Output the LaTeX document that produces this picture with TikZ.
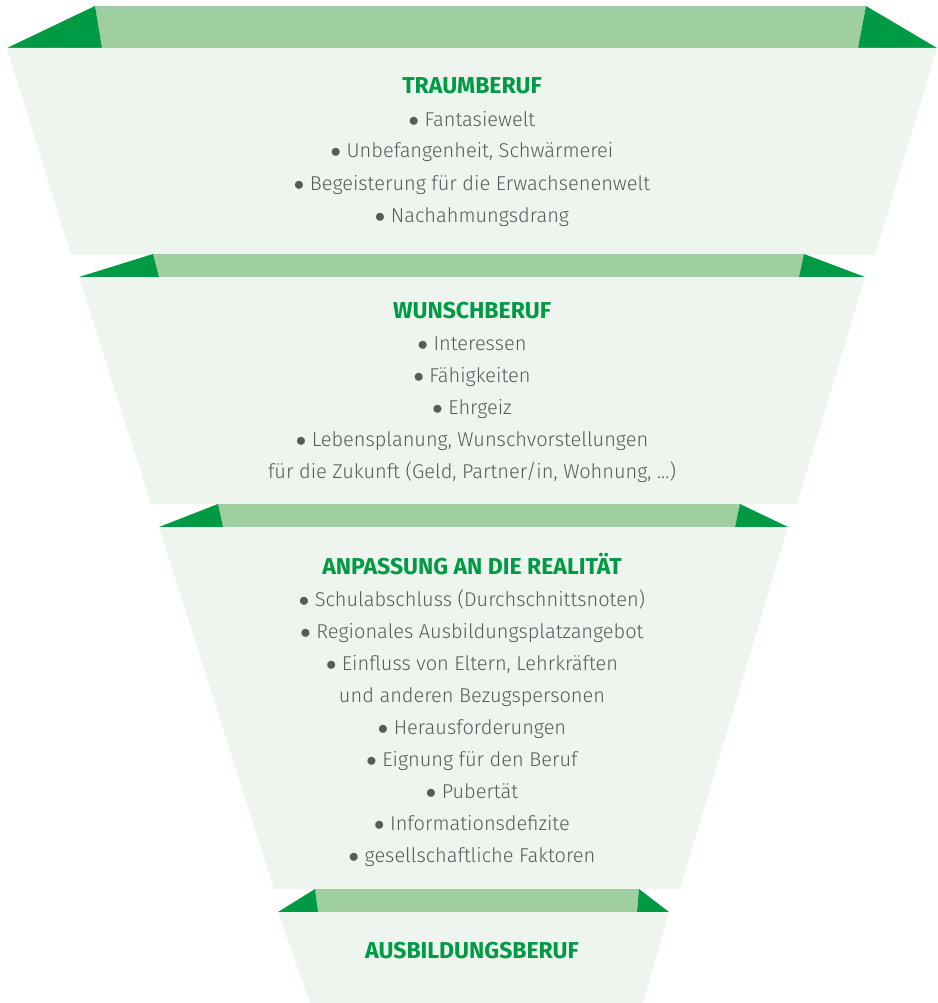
\documentclass[tikz,border=0pt]{standalone}
\usepackage{fontspec}
\setmainfont{Fira Sans}[UprightFont=* Light, BoldFont=* Bold]
\usetikzlibrary{positioning}
\definecolor{flapgreen}{HTML}{009A44}
\definecolor{bandgreen}{HTML}{9FCEA0}
\definecolor{panelgreen}{HTML}{EEF5EE}
\definecolor{itemgray}{HTML}{5A5A5A}
\newcommand\dotmark{$\bullet$}

\begin{document}
\begin{tikzpicture}[
		x=1pt,y=-1pt,
		panel/.style={fill=panelgreen},
		band/.style={fill=bandgreen},
		flap/.style={fill=flapgreen},
		heading/.style={text=flapgreen,font=\bfseries\fontsize{23}{28}\selectfont,inner sep=0pt,anchor=base},
		items/.style={text=itemgray,align=center,font=\fontsize{20}{32}\selectfont,inner sep=0pt,anchor=base},
	]
	\useasboundingbox (0,0) rectangle (937,1003);
	% first stage
	\fill[band] (95,6)--(866,6)--(858,48)--(102,48)--cycle;
	\fill[flap] (7,48)--(95,6)--(102,48)--cycle;
	\fill[flap] (866,6)--(937,48)--(858,48)--cycle;
	\fill[panel] (7,48)--(937,48)--(875,255)--(71,255)--cycle;
	% second stage
	\fill[band] (153,254)--(804,254)--(799,277)--(159,277)--cycle;
	\fill[flap] (79,277)--(153,254)--(159,277)--cycle;
	\fill[flap] (804,254)--(865,277)--(799,277)--cycle;
	\fill[panel] (79,277)--(865,277)--(797,504)--(151,504)--cycle;
	% third stage
	\fill[band] (218,504)--(740,504)--(735,527)--(223,527)--cycle;
	\fill[flap] (159,527)--(218,504)--(223,527)--cycle;
	\fill[flap] (740,504)--(788,527)--(735,527)--cycle;
	\fill[panel] (159,527)--(788,527)--(680,889)--(274,889)--cycle;
	% last stage
	\fill[band] (315,889)--(639,889)--(637,912)--(318,912)--cycle;
	\fill[flap] (278,912)--(315,889)--(318,912)--cycle;
	\fill[flap] (639,889)--(669,912)--(637,912)--cycle;
	\fill[panel] (278,912)--(669,912)--(643,1003)--(310,1003)--cycle;
	% texts (base anchor sits on the last line)
	\node[heading] (traum) at (472,94) {TRAUMBERUF};
	\node[items] (traumlist) at (472,222) {\dotmark\ Fantasiewelt\\\dotmark\ Unbefangenheit, Schwärmerei\\\dotmark\ Begeisterung für die Erwachsenenwelt\\\dotmark\ Nachahmungsdrang};
	\node[heading] (wunsch) at (472,318) {WUNSCHBERUF};
	\node[items] (wunschlist) at (472,478) {\dotmark\ Interessen\\\dotmark\ Fähigkeiten\\\dotmark\ Ehrgeiz\\\dotmark\ Lebensplanung, Wunschvorstellungen\\für die Zukunft (Geld, Partner/in, Wohnung, ...)};
	\node[heading] (realitaet) at (472,574) {ANPASSUNG AN DIE REALITÄT};
	\node[items] (realitaetlist) at (472,862) {\dotmark\ Schulabschluss (Durchschnittsnoten)\\\dotmark\ Regionales Ausbildungsplatzangebot\\\dotmark\ Einfluss von Eltern, Lehrkräften\\und anderen Bezugspersonen\\\dotmark\ Herausforderungen\\\dotmark\ Eignung für den Beruf\\\dotmark\ Pubertät\\\dotmark\ Informationsdefizite\\\dotmark\ gesellschaftliche Faktoren};
	\node[heading] (ausbildung) at (472,958) {AUSBILDUNGSBERUF};
\end{tikzpicture}
\end{document}
